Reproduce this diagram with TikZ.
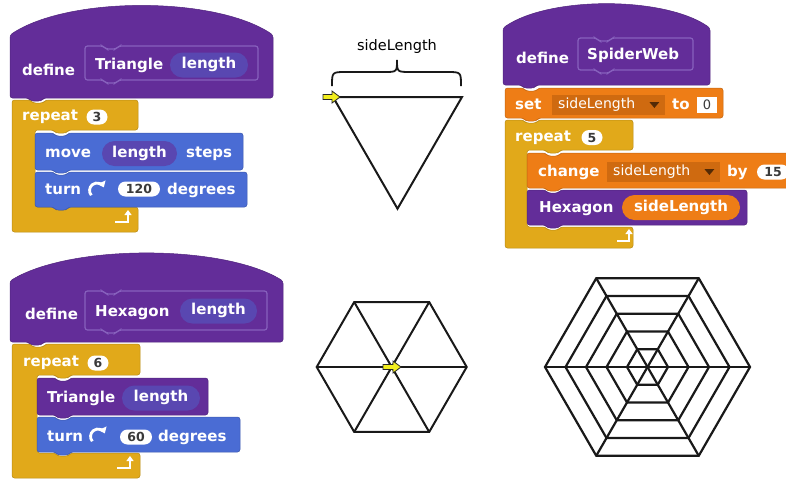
\documentclass[tikz,border=0pt]{standalone}
\usepackage{fontspec}
\setmainfont{DejaVu Sans}
\usetikzlibrary{arrows.meta,calc,positioning}

\definecolor{defpurple}{HTML}{632D99}
\definecolor{parpurple}{HTML}{5947B1}
\definecolor{protoline}{HTML}{8761BD}
\definecolor{motionblue}{HTML}{4A6CD4}
\definecolor{ctrlgold}{HTML}{E1A91A}
\definecolor{dataorange}{HTML}{EE7D16}
\definecolor{dropdark}{HTML}{CF6A10}
\definecolor{numtext}{HTML}{3A3A3A}
\definecolor{turtlefill}{HTML}{F2EE1E}

% block outlines (x0,y0,x1,y1 in px, y downwards)
\newcommand{\stackblock}[5]{\path[#1] (#2,#3) -- ++(18,0) -- ++(3,3) -- ++(10,0) -- ++(3,-3) -- (#4,#3) -- (#4,#5) -- ({#2+34},#5) -- ++(-3,3) -- ++(-10,0) -- ++(-3,-3) -- (#2,#5) -- cycle;}
\newcommand{\hatblock}[6]{\path[#1] (#2,#6) -- (#2,#3) .. controls ({#2+0.22*(#5-#2)},#4) and ({#5-0.22*(#5-#2)},#4) .. (#5,#3) -- (#5,#6) -- ({#2+34},#6) -- ++(-3,3) -- ++(-10,0) -- ++(-3,-3) -- cycle;}
\newcommand{\cblock}[8]{\path[#1] (#2,#3) -- ++(18,0) -- ++(3,3) -- ++(10,0) -- ++(3,-3) -- (#4,#3) -- (#4,#5) -- ({#6+34},#5) -- ++(-3,3) -- ++(-10,0) -- ++(-3,-3) -- (#6,#5) -- (#6,#7) -- ({#6+18},#7) -- ++(3,3) -- ++(10,0) -- ++(3,-3) -- (#4,#7) -- (#4,#8) -- (#2,#8) -- cycle;}

\begin{document}
\begin{tikzpicture}[x=1pt, y=-1pt,
  blockfill/.style={fill=#1, draw=#1!82!black, line width=0.5pt, rounded corners=2.5pt},
  protobox/.style={draw=protoline, line width=1.2pt, rounded corners=2.5pt},
  blk/.style={font=\bfseries\fontsize{15}{17}\selectfont, text=white, inner sep=0pt, text height=10.5pt, text depth=3pt, anchor=west},
  param/.style={blk, anchor=center, fill=parpurple, rounded corners=12.5pt, minimum height=25pt, inner xsep=4pt},
  numin/.style={fill=white, text=numtext, rounded corners=7.5pt, font=\bfseries\fontsize{12.5}{14}\selectfont, minimum height=15pt, minimum width=21pt, inner xsep=3pt, inner ysep=0pt, text height=9pt, text depth=0pt},
  numbox/.style={fill=white, text=numtext, font=\fontsize{13}{15}\selectfont, minimum width=20pt, minimum height=16pt, inner sep=0pt, text height=9pt, text depth=0pt},
  drop/.style={fill=dropdark, text=white, font=\fontsize{14}{16}\selectfont, minimum height=20pt, inner xsep=6pt, inner ysep=0pt, text height=10pt, text depth=3pt, text width=101pt, align=left, anchor=west},
  droptip/.style={fill=black!60!dropdark},
  loopar/.style={white, line width=2.2pt, -{Triangle[length=5pt,width=7pt]}},
  turnar/.style={white, line width=2.8pt, -{Triangle[length=5.5pt,width=8.5pt]}},
  fig/.style={black!90, line width=2pt},
  web/.style={black!90, line width=2.2pt},
  turtle/.style={fill=turtlefill, draw=black!85, line width=0.8pt},
  lbl/.style={font=\fontsize{14.5}{16}\selectfont, inner sep=0pt}]
  \useasboundingbox (0,0) rectangle (786,480);
  \clip (0,0) rectangle (786,480);

  % define Triangle
  \hatblock{blockfill=defpurple}{10}{35}{-4}{273}{98}
  \stackblock{protobox}{85}{46}{258}{80}
  \node[blk] (defA) at (22,72) {define};
  \node[blk] (protoA) at (95,66) {Triangle};
  \node[param, minimum width=78pt] (lenA) at (209,65) {length};
  \cblock{blockfill=ctrlgold}{12}{100}{138}{130}{35}{207}{232}
  \node[blk] (repA) at (22,117) {repeat};
  \node[numin] (cntA) at (97,117) {3};
  \stackblock{blockfill=motionblue}{35}{133}{243}{170}
  \node[blk] (moveA) at (45,154) {move};
  \node[param, minimum width=75pt] (mlenA) at (139.5,153.5) {length};
  \node[blk] (stepsA) at (186,154) {steps};
  \stackblock{blockfill=motionblue}{35}{172}{247}{207}
  \node[blk] (turnA) at (45,191) {turn};
  \draw[turnar] (91.3,195.3) arc (140:335:7.5);
  \node[numin, minimum width=42pt] (angA) at (139,189) {120};
  \node[blk] (degA) at (167,191) {degrees};
  \draw[loopar] (115,222) -- (128,222) -- (128,210);

  % triangle drawing
  \node[lbl] (sideLbl) at (397,46) {sideLength};
  \draw[fig, line width=1.8pt] (332,86) .. controls (332,72) .. (346,72) -- (384,72) .. controls (397,72) .. (397,60) .. controls (397,72) .. (411,72) -- (447,72) .. controls (461,72) .. (461,86);
  \draw[fig] (333,97) -- (462,97) -- (397.5,208.7) -- cycle;
  \filldraw[turtle] (323,94.5) -- (332,94.5) -- (332,91) -- (340,97) -- (332,103) -- (332,99.5) -- (323,99.5) -- cycle;

  % define SpiderWeb
  \hatblock{blockfill=defpurple}{503}{28}{-4}{710}{85}
  \stackblock{protobox}{578}{38}{693}{70}
  \node[blk] (defB) at (516,60) {define};
  \node[blk] (protoB) at (587,56) {SpiderWeb};
  \stackblock{blockfill=dataorange}{505}{88}{723}{118}
  \node[blk] (setB) at (515,106) {set};
  \node[drop] (varB) at (552,105) {sideLength};
  \fill[droptip] ($(varB.east)+(-16,-3)$) -- ++(10,0) -- ++(-5,6) -- cycle;
  \node[blk] (toB) at (672,106) {to};
  \node[numbox] (zeroB) at (707,105) {0};
  \cblock{blockfill=ctrlgold}{505}{120}{633}{150}{527}{227}{248}
  \node[blk] (repB) at (515,138) {repeat};
  \node[numin] (cntB) at (592,137.5) {5};
  \stackblock{blockfill=dataorange}{527}{153}{800}{188}
  \node[blk] (chgB) at (538,173) {change};
  \node[drop] (var2B) at (607,172) {sideLength};
  \fill[droptip] ($(var2B.east)+(-16,-3)$) -- ++(10,0) -- ++(-5,6) -- cycle;
  \node[blk] (byB) at (727,173) {by};
  \node[numin, minimum width=32pt] (incB) at (773,172) {15};
  \stackblock{blockfill=defpurple}{527}{190}{747}{225}
  \node[blk] (hexB) at (539,209) {Hexagon};
  \node[param, fill=dataorange, minimum width=118pt] (slB) at (681,207.5) {sideLength};
  \draw[loopar] (617,241) -- (629,241) -- (629,229);

  % define Hexagon
  \hatblock{blockfill=defpurple}{10}{281}{244}{283}{342}
  \stackblock{protobox}{85}{291}{267}{330}
  \node[blk] (defC) at (25,316) {define};
  \node[blk] (protoC) at (95,313) {Hexagon};
  \node[param, minimum width=77pt] (lenC) at (218.5,311) {length};
  \cblock{blockfill=ctrlgold}{12}{344}{140}{375}{37}{453}{478}
  \node[blk] (repC) at (23,363) {repeat};
  \node[numin] (cntC) at (98,363) {6};
  \stackblock{blockfill=defpurple}{37}{378}{208}{415}
  \node[blk] (triC) at (47,399) {Triangle};
  \node[param, minimum width=78pt] (tlenC) at (161,398) {length};
  \stackblock{blockfill=motionblue}{37}{417}{240}{452}
  \node[blk] (turnC) at (47,438) {turn};
  \draw[turnar] (92.3,441.3) arc (140:335:7.5);
  \node[numin, minimum width=32pt] (angC) at (136,437) {60};
  \node[blk] (degC) at (158,438) {degrees};
  \draw[loopar] (117,468) -- (130,468) -- (130,456);

  % hexagon drawing
  \begin{scope}[shift={(391.7,367)}]
    \draw[fig] (0:75) -- (60:75) -- (120:75) -- (180:75) -- (240:75) -- (300:75) -- cycle;
    \foreach \a in {0,60,120}
      \draw[fig] (\a:75) -- (\a+180:75);
  \end{scope}
  \filldraw[turtle] (383,364.5) -- (393,364.5) -- (393,361) -- (401,367) -- (393,373) -- (393,369.5) -- (383,369.5) -- cycle;

  % spider web drawing
  \begin{scope}[shift={(647.5,367)}]
    \foreach \r in {20.5,41,61.5,82,102.5}
      \draw[web] (0:\r) -- (60:\r) -- (120:\r) -- (180:\r) -- (240:\r) -- (300:\r) -- cycle;
    \foreach \a in {0,60,120}
      \draw[web] (\a:102.5) -- (\a+180:102.5);
  \end{scope}
\end{tikzpicture}
\end{document}
